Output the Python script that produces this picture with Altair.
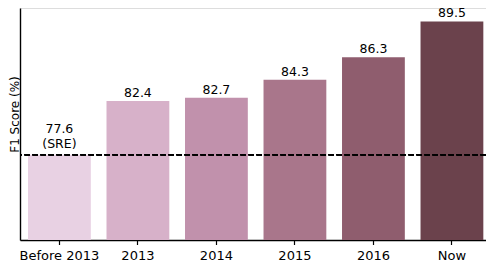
import altair as alt
import pandas as pd

categories = ["Before 2013", "2013", "2014", "2015", "2016", "Now"]
scores = [77.6, 82.4, 82.7, 84.3, 86.3, 89.5]
labels = ["77.6", "82.4", "82.7", "84.3", "86.3", "89.5"]
bar_colors = ["#e8d1e3", "#d7b1c9", "#c191ac", "#a9768b", "#8f5d6e", "#6b424c"]
baseline_score = 77.6
baseline_note = "(SRE)"
y_min, y_max = 70, 90.7

df = pd.DataFrame({"cat": categories, "score": scores, "label": labels})
df["is_base"] = [c == categories[0] for c in categories]

FONT = "DejaVu Sans"

x_enc = alt.X(
    "cat:N",
    sort=categories,
    scale=alt.Scale(paddingInner=0.2, paddingOuter=0.068, align=0.75),
    axis=alt.Axis(
        title=None, labelAngle=0, labelFontSize=13, labelColor="black",
        labelPadding=5, tickSize=4.5, tickColor="black", tickWidth=1.2,
        domainColor="black", domainWidth=1.4, labelFont=FONT,
    ),
)
y_scale = alt.Scale(domain=[y_min, y_max], zero=False, nice=False)
y_enc = alt.Y(
    "score:Q",
    scale=y_scale,
    axis=alt.Axis(
        title="F1 Score (%)", labels=False, ticks=False, grid=False,
        domainColor="black", domainWidth=1.4, titleFont=FONT,
        titleFontSize=12, titleFontWeight="normal", titleColor="black",
        titleAngle=270, titleX=-2, titleY=106, titleAlign="center",
        titleBaseline="alphabetic",
    ),
)

bars = alt.Chart(df).mark_bar().encode(
    x=x_enc,
    y=y_enc,
    y2=alt.datum(y_min),
    color=alt.Color("cat:N", scale=alt.Scale(domain=categories, range=bar_colors), legend=None),
)

rule = alt.Chart(df).mark_rule(
    color="black", strokeDash=[5.5, 2.5], strokeWidth=1.4
).encode(y=alt.datum(baseline_score))

txt_props = dict(font=FONT, fontSize=12.5, color="black", baseline="alphabetic", align="center")

labels_main = alt.Chart(df).transform_filter("!datum.is_base").mark_text(dy=-4, **txt_props).encode(
    x=alt.X("cat:N", sort=categories), y=alt.Y("score:Q", scale=y_scale), text="label:N"
)
labels_base = alt.Chart(df).transform_filter("datum.is_base").mark_text(dy=-22, **txt_props).encode(
    x=alt.X("cat:N", sort=categories), y=alt.Y("score:Q", scale=y_scale), text="label:N"
)
note_df = pd.DataFrame({"cat": [categories[0]], "score": [baseline_score], "note": [baseline_note]})
labels_note = alt.Chart(note_df).mark_text(dy=-7, **txt_props).encode(
    x=alt.X("cat:N", sort=categories), y=alt.Y("score:Q", scale=y_scale), text="note:N"
)

chart = alt.layer(bars, rule, labels_main, labels_base, labels_note).properties(
    width=466,
    height=232,
    autosize=alt.AutoSizeParams(type="none"),
    padding={"left": 12, "top": 0, "right": 0, "bottom": 20},
).configure_view(stroke=None).configure(background="white")

chart.save("out.html", embed_options={"renderer": "svg", "actions": False})
